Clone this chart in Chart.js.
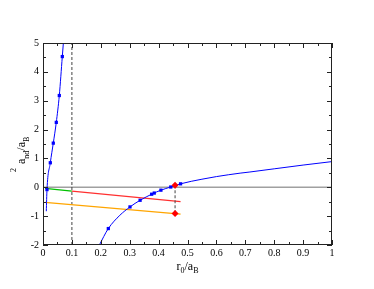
<!DOCTYPE html>
<html>
<head>
<meta charset="utf-8">
<script src="https://cdn.jsdelivr.net/npm/chart.js@4.4.1/dist/chart.umd.min.js"></script>
<style>
  html,body{margin:0;padding:0;background:#fff;}
  #wrap{width:374px;height:289px;}
</style>
</head>
<body>
<div id="wrap"><canvas id="c"></canvas></div>
<script>
// ---------- DATA ----------
const xTicks = [0,0.1,0.2,0.3,0.4,0.5,0.6,0.7,0.8,0.9,1];
const yTicks = [-2,-1,0,1,2,3,4,5];

// blue curve, left (steep) branch
const leftCurveX = [0.0114,0.0138,0.0253,0.0356,0.046,0.0564,0.0668,0.0705];
const leftCurveY = [-0.83,-0.08,0.85,1.53,2.25,3.18,4.53,5.0];
// blue curve, right branch
const rightCurveX = [0.195,0.226,0.266,0.301,0.336,0.378,0.408,0.442,0.476,0.55,0.6,0.682,0.716,0.8,0.9,1.0];
const rightCurveY = [-2.0,-1.43,-0.97,-0.68,-0.45,-0.23,-0.10,0.01,0.12,0.28,0.37,0.49,0.53,0.64,0.77,0.89];

// blue markers
const bluePtsX = [0.0138,0.0253,0.0356,0.046,0.0564,0.0668,0.226,0.301,0.336,0.376,0.385,0.408,0.442,0.476];
const bluePtsY = [-0.08,0.85,1.53,2.25,3.18,4.53,-1.43,-0.68,-0.45,-0.24,-0.20,-0.10,0.01,0.12];

// red markers
const redPtsX = [0.457,0.457];
const redPtsY = [0.07,-0.91];

// straight lines
const greenX = [0.007,0.1], greenY = [-0.04,-0.13];
const redX = [0.1,0.476], redY = [-0.13,-0.50];
const orangeX = [0.007,0.476], orangeY = [-0.52,-0.93];
const zeroX = [0,1], zeroY = [0,0];
const dash1X = [0.1,0.1], dash1Y = [-2,5];
const dash2X = [0.457,0.457], dash2Y = [0.07,-0.91];

function pts(xs, ys){
    return xs.map((x,i)=>({x:x, y:ys[i]}));
}

function lineSet(xs, ys, color, width, dash){
    return {
        data: pts(xs, ys),
        showLine: true,
        borderColor: color,
        borderWidth: width,
        borderDash: dash || [],
        pointRadius: 0,
        fill: false
    };
}

// ---------- FRAME + TICKS + AXIS TITLES ----------
const framePlugin = {
    id: "frame",
    afterDraw(chart){
        const ctx = chart.ctx;
        const a = chart.chartArea;
        const sx = chart.scales.x, sy = chart.scales.y;

        ctx.save();
        ctx.strokeStyle = "#222";
        ctx.lineWidth = 1;
        ctx.strokeRect(a.left+0.5, a.top+0.5, a.right-a.left-1, a.bottom-a.top-1);

        ctx.beginPath();
        for(let i=0;i<=20;i++){
            const v = i*0.05;
            const len = (i%2===0) ? 5 : 3;
            const px = Math.round(sx.getPixelForValue(v))+0.5;
            ctx.moveTo(px, a.bottom); ctx.lineTo(px, a.bottom-len);
            ctx.moveTo(px, a.top); ctx.lineTo(px, a.top+len);
        }
        for(let i=0;i<=14;i++){
            const v = -2 + i*0.5;
            const len = (i%2===0) ? 5 : 3;
            const py = Math.round(sy.getPixelForValue(v))+0.5;
            ctx.moveTo(a.left, py); ctx.lineTo(a.left+len, py);
            ctx.moveTo(a.right, py); ctx.lineTo(a.right-len, py);
        }
        ctx.stroke();

        // x title: r0/aB
        ctx.fillStyle = "#000";
        ctx.textBaseline = "alphabetic";
        const big = "12px 'Liberation Serif'", small = "8px 'Liberation Serif'";
        const xParts = [["r",big,0],["0",small,3],["/a",big,0],["B",small,3]];
        let w = 0;
        xParts.forEach(p=>{ ctx.font=p[1]; w += ctx.measureText(p[0]).width; });
        let cx = (a.left+a.right)/2 - w/2;
        xParts.forEach(p=>{
            ctx.font=p[1];
            ctx.fillText(p[0], cx, 270+p[2]);
            cx += ctx.measureText(p[0]).width;
        });

        // y title: 2 a_nd / a_B (rotated)
        ctx.translate(25, 172);
        ctx.rotate(-Math.PI/2);
        const yParts = [["2",small,-9,4],["a",big,0,0],["nd",small,4,0],["/a",big,0,0],["B",small,4,0]];
        let tx = 0;
        yParts.forEach(p=>{
            ctx.font=p[1];
            ctx.fillText(p[0], tx, p[2]);
            tx += ctx.measureText(p[0]).width + p[3];
        });
        ctx.restore();
    }
};

// ---------- CHART ----------
function initChart(){
    const ctx = document.getElementById("c");

    new Chart(ctx, {
        type: "scatter",
        data: {
            datasets: [
                {
                    data: pts(redPtsX, redPtsY),
                    pointStyle: "rectRot",
                    pointRadius: 3.5,
                    backgroundColor: "#ff0000",
                    borderColor: "#ff0000",
                    borderWidth: 0
                },
                {
                    data: pts(bluePtsX, bluePtsY),
                    pointStyle: "rect",
                    pointRadius: 2.3,
                    backgroundColor: "#0000ff",
                    borderColor: "#0000ff",
                    borderWidth: 0
                },
                Object.assign(lineSet(leftCurveX, leftCurveY, "#0000ff", 1), {cubicInterpolationMode:"monotone"}),
                Object.assign(lineSet(rightCurveX, rightCurveY, "#0000ff", 1), {cubicInterpolationMode:"monotone"}),
                lineSet(dash2X, dash2Y, "#444", 1, [3,2]),
                lineSet(greenX, greenY, "#00c000", 1.2),
                lineSet(redX, redY, "#ff3030", 1.2),
                lineSet(orangeX, orangeY, "#ffa500", 1.2),
                lineSet(dash1X, dash1Y, "#444", 1, [3,2]),
                lineSet(zeroX, zeroY, "#a0a0a0", 1.6)
            ]
        },
        options: {
            responsive: true,
            maintainAspectRatio: false,
            animation: false,
            layout: { padding: { top: 43, right: 42, left: 0, bottom: 0 } },
            plugins: { legend: { display:false }, tooltip: { enabled:false } },
            scales: {
                x: {
                    type: "linear",
                    min: 0, max: 1,
                    afterBuildTicks: s=>{ s.ticks = xTicks.map(v=>({value:v})); },
                    afterFit: s=>{ s.height = 44; },
                    grid: { display:false, drawTicks:false },
                    border: { display:false },
                    ticks: {
                        color: "#000",
                        padding: 2,
                        font: { family:"Liberation Serif", size:10 },
                        callback: v=>String(+v.toFixed(2))
                    }
                },
                y: {
                    type: "linear",
                    min: -2, max: 5,
                    afterBuildTicks: s=>{ s.ticks = yTicks.map(v=>({value:v})); },
                    afterFit: s=>{ s.width = 43; },
                    grid: { display:false, drawTicks:false },
                    border: { display:false },
                    ticks: {
                        color: "#000",
                        padding: 4,
                        font: { family:"Liberation Serif", size:10 },
                        callback: v=>String(v)
                    }
                }
            }
        },
        plugins: [framePlugin]
    });
}

document.addEventListener("DOMContentLoaded", initChart);
</script>
</body>
</html>
